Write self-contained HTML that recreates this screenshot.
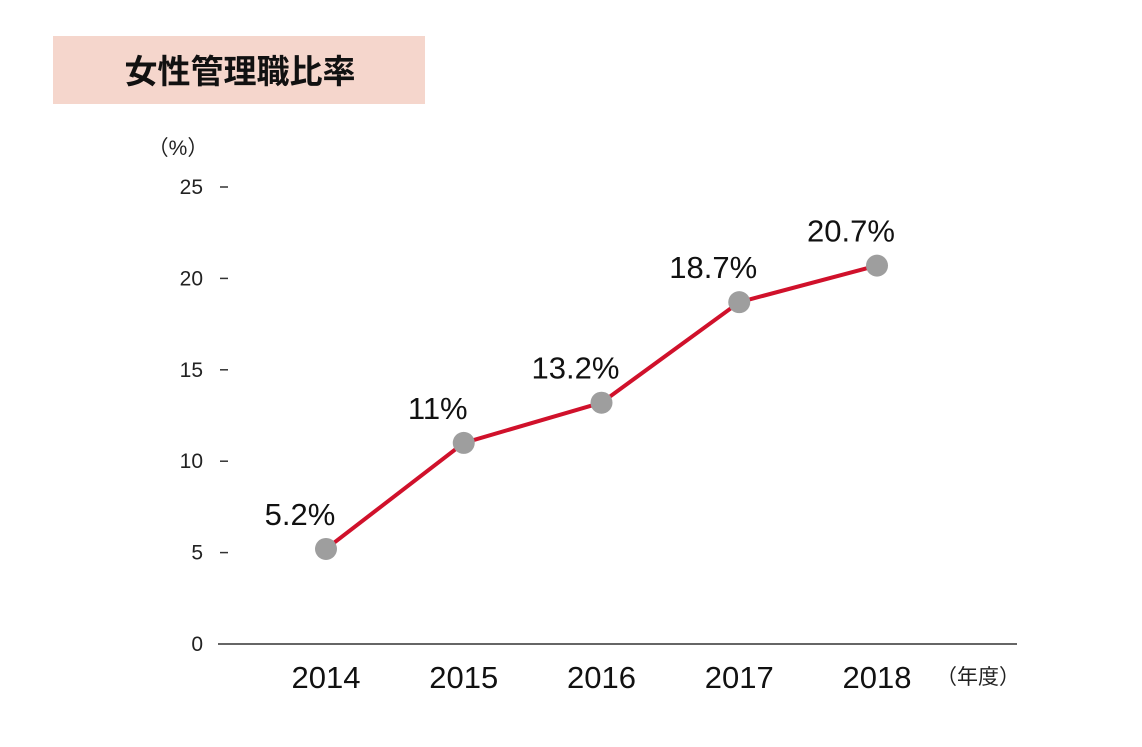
<!DOCTYPE html>
<html><head><meta charset="utf-8"><style>
body{margin:0;background:#fff;}
svg text{font-family:"Liberation Sans","Noto Sans CJK JP",sans-serif;}
</style></head><body>
<svg width="1142" height="742" viewBox="0 0 1142 742">
<rect x="53" y="36" width="372" height="68" fill="#f5d6cc"/>
<text x="240" y="83" font-size="33" font-weight="bold" text-anchor="middle" fill="#111" style="font-family:'Noto Sans CJK JP',sans-serif">女性管理職比率</text>
<text x="178" y="155" font-size="21" text-anchor="middle" fill="#222">（%）</text>
<line x1="218" y1="644" x2="1017" y2="644" stroke="#333" stroke-width="1.5"/>
<text x="978" y="684" font-size="21" text-anchor="middle" fill="#222">（年度）</text>
<g id="ticks"></g><g id="xlabels"></g>
<polyline id="line" fill="none" stroke="#d0112b" stroke-width="4"/>
<g id="points"></g><g id="values"></g>
</svg>
<script>
const categories=["2014","2015","2016","2017","2018"];
const values=[5.2,11,13.2,18.7,20.7];
const valueLabels=["5.2%","11%","13.2%","18.7%","20.7%"];
const yTicks=[0,5,10,15,20,25];
const ns="http://www.w3.org/2000/svg";
function y(v){return 644-v*18.28;}
function x(i){return 326+i*137.75;}
function mk(tag,attrs,parent,text){const e=document.createElementNS(ns,tag);for(const k in attrs)e.setAttribute(k,attrs[k]);if(text!==undefined)e.textContent=text;document.getElementById(parent).appendChild(e);return e;}
yTicks.forEach(t=>{
 const l=mk("text",{x:203,y:y(t)+7,"font-size":21,"text-anchor":"end",fill:"#222"},"ticks",String(t));
 
 
 if(t>0){const d=mk("line",{x1:220,x2:228,y1:y(t),y2:y(t),stroke:"#333","stroke-width":1.5},"ticks");
 
 }
});
categories.forEach((c,i)=>{
 const l=mk("text",{x:x(i),y:688,"font-size":31,"text-anchor":"middle",fill:"#111"},"xlabels",c);
 
 
});
document.getElementById("line").setAttribute("points",values.map((v,i)=>x(i)+","+y(v)).join(" "));
values.forEach((v,i)=>{
 const p=mk("circle",{cx:x(i),cy:y(v),r:11,fill:"#9e9e9e"},"points");
 
 
 const t=mk("text",{x:x(i)-26+ (i==0?0:0),y:y(v)-24,"font-size":31,"text-anchor":"middle",fill:"#111"},"values",valueLabels[i]);
 
 
});
</script>
</body></html>
